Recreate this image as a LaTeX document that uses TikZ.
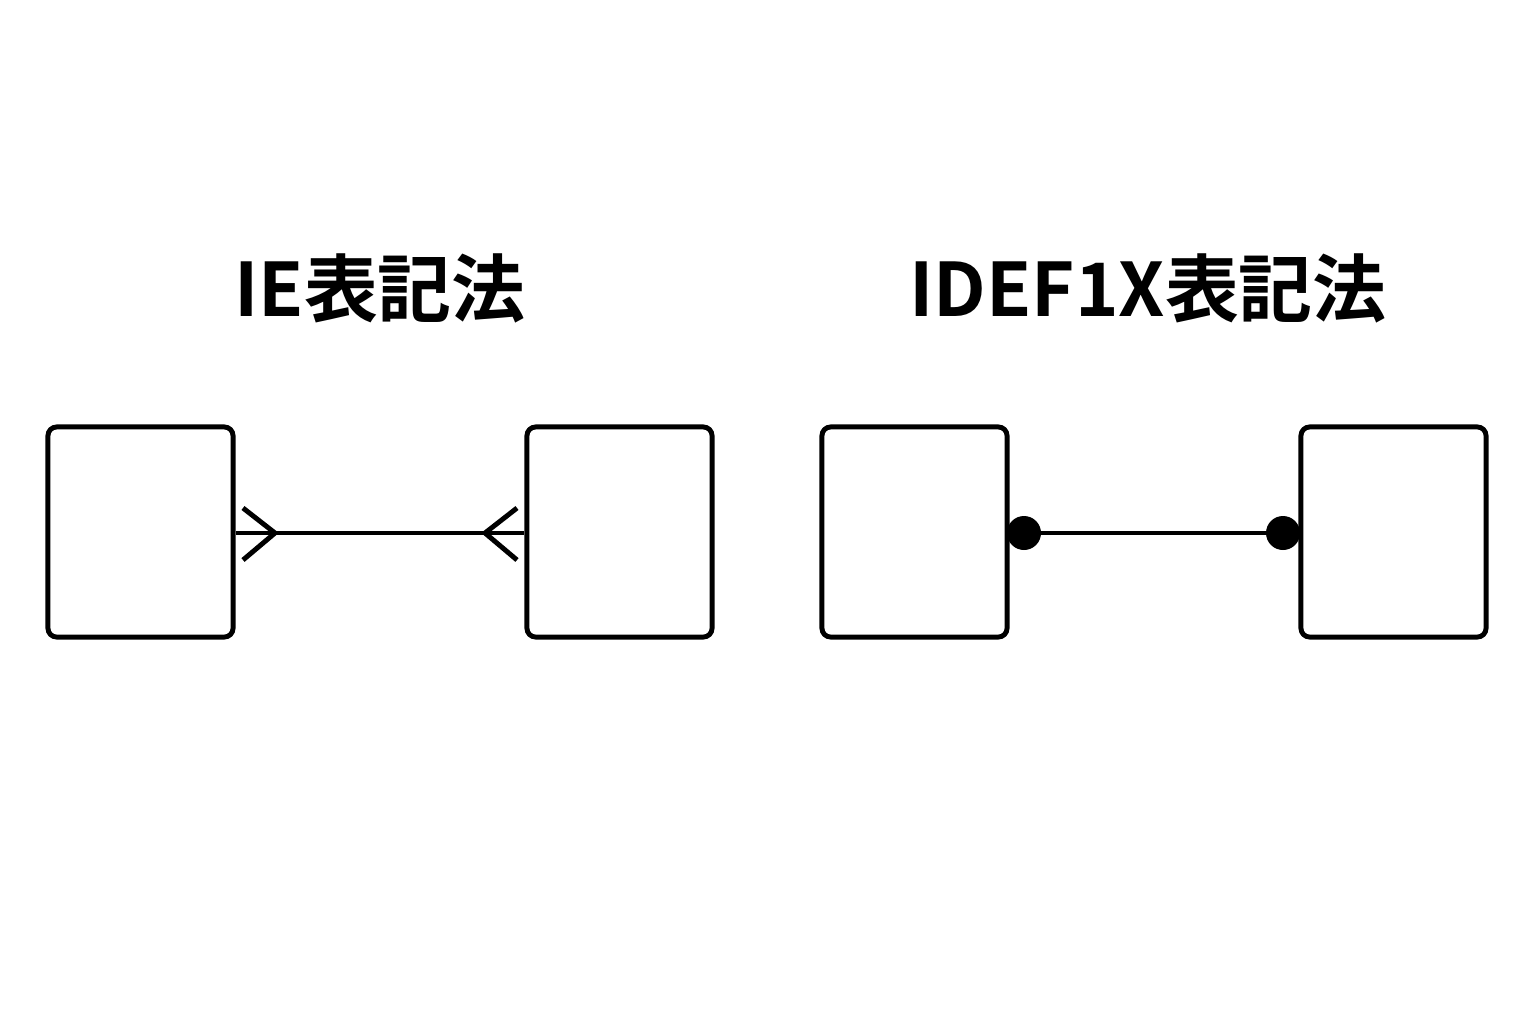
\documentclass[tikz,border=0pt]{standalone}
\usepackage{fontspec}
\newfontfamily\cjk{Noto Sans CJK JP Bold}
\tikzset{
	>=latex,
}
\tikzstyle{entity}=[draw,line width=1.4pt,rounded corners=2.5pt,minimum width=1.85cm,minimum height=2.1cm]
\tikzstyle{rel}=[line width=1.4pt]
\tikzstyle{title}=[font=\cjk\fontsize{21}{24}\selectfont]

\begin{document}
\begin{tikzpicture}[x=0.01cm,y=-0.01cm]
      \useasboundingbox (0,0) rectangle (1536,1024);
      \node[title] (tie) at (380,288) {IE表記法};
      \node[title] (tidef) at (1148,288) {IDEF1X表記法};
      \node[entity] (e1) at (140.5,532) {};
      \node[entity] (e2) at (619.5,532) {};
      \node[entity] (e3) at (914.5,532) {};
      \node[entity] (e4) at (1393.5,532) {};
      \draw[rel] (e1.east|-0,533) -- (e2.west|-0,533);
      \draw[rel] (243,508) -- (275,533) -- (243,560);
      \draw[rel] (517,508) -- (485,533) -- (517,560);
      \draw[rel] (e3.east|-0,533) -- (e4.west|-0,533);
      \fill (1024,533) circle(17);
      \fill (1283,533) circle(17);
    \end{tikzpicture}
\end{document}
